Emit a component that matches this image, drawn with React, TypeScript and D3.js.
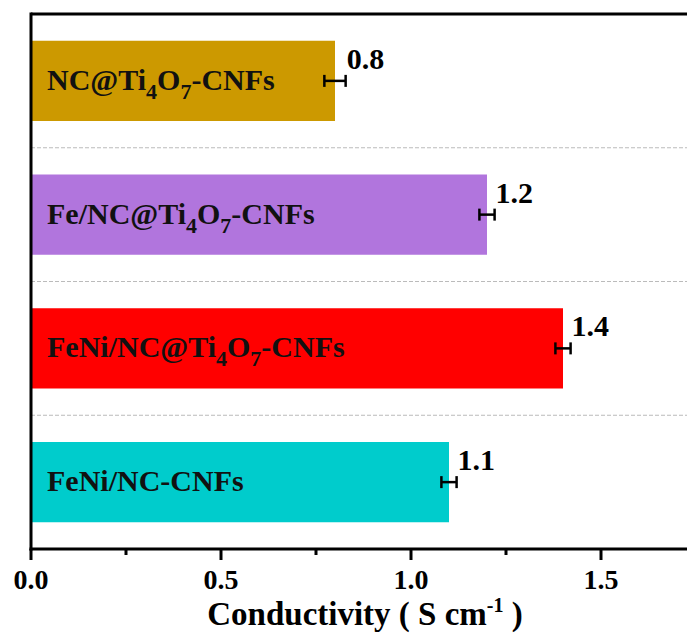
import React from "react";
import * as d3 from "d3";

const categories = ["NC@Ti4O7-CNFs", "Fe/NC@Ti4O7-CNFs", "FeNi/NC@Ti4O7-CNFs", "FeNi/NC-CNFs"];
const values = [0.8, 1.2, 1.4, 1.1];
const errors = [0.028, 0.02, 0.02, 0.02];
const valueLabels = ["0.8", "1.2", "1.4", "1.1"];
const colors = ["#CC9900", "#B175DD", "#FF0000", "#00CCCC"];
const majorTicks = [0, 0.5, 1.0, 1.5];
const minorTicks = [0.25, 0.75, 1.25, 1.75];
const xLabel = "Conductivity ( S cm";

function splitLabel(s: string) {
  const parts: { t: string; sub: boolean }[] = [];
  const re = /(Ti)(4)(O)(7)/;
  const m = s.match(re);
  if (!m || m.index === undefined) return [{ t: s, sub: false }];
  parts.push({ t: s.slice(0, m.index) + "Ti", sub: false });
  parts.push({ t: "4", sub: true });
  parts.push({ t: "O", sub: false });
  parts.push({ t: "7", sub: true });
  parts.push({ t: s.slice(m.index + m[0].length), sub: false });
  return parts;
}

const FONT = '"Liberation Serif"';
const ts = (size: number) => ({ fontFamily: FONT, fontSize: size, fontWeight: 700 as const });

export default function App() {
  const W = 687, H = 634;
  const left = 31, top = 14, bottom = 549;
  const x = d3.scaleLinear().domain([0, 1.8]).range([left, left + 1.8 * 380]);
  const y = d3.scaleBand<string>().domain(categories).range([top, bottom]).paddingInner(0.4).paddingOuter(0.2);
  const step = y.step();
  return (
    <svg width={W} height={H} style={{ position: "absolute", left: 0, top: 0, background: "#fff" }}>
      {categories.slice(1).map((c, i) => {
        const yy = top + (i + 1) * step;
        return <line key={c} x1={left} x2={W} y1={yy} y2={yy} stroke="#bbbbbb" strokeWidth={1} strokeDasharray="4,2" />;
      })}
      {categories.map((c, i) => {
        const y0 = y(c)!;
        const bw = y.bandwidth();
        const cy = y0 + bw / 2;
        const xe1 = x(values[i] - errors[i]);
        const xe2 = x(values[i] + errors[i]);
        return (
          <g key={c}>
            <rect x={x(0)} y={y0} width={x(values[i]) - x(0)} height={bw} fill={colors[i]} />
            <line x1={xe1} x2={xe2} y1={cy} y2={cy} stroke="#000" strokeWidth={2.5} />
            <line x1={xe1} x2={xe1} y1={cy - 6} y2={cy + 6} stroke="#000" strokeWidth={2.5} />
            <line x1={xe2} x2={xe2} y1={cy - 6} y2={cy + 6} stroke="#000" strokeWidth={2.5} />
            <text x={xe2 + 1} y={cy - 12} style={ts(30)} fill="#000">{valueLabels[i]}</text>
            <text x={47} y={cy + 9} style={ts(30)} fill="#111">
              {splitLabel(c).map((p, k) =>
                p.sub ? (
                  <tspan key={k} style={{ fontSize: 22 }} dy={9}>{p.t}</tspan>
                ) : (
                  <tspan key={k} dy={k > 0 ? -9 : 0}>{p.t}</tspan>
                )
              )}
            </text>
          </g>
        );
      })}
      <line x1={left} x2={W} y1={top} y2={top} stroke="#000" strokeWidth={3} />
      <line x1={left} x2={left} y1={top - 1.5} y2={bottom + 1.5} stroke="#000" strokeWidth={3} />
      <line x1={left - 1.5} x2={W} y1={bottom} y2={bottom} stroke="#000" strokeWidth={3} />
      {majorTicks.map((t) => (
        <g key={t}>
          <line x1={x(t)} x2={x(t)} y1={bottom} y2={bottom + 11} stroke="#000" strokeWidth={3} />
          <text x={x(t)} y={589} textAnchor="middle" style={ts(28)}>{d3.format(".1f")(t)}</text>
        </g>
      ))}
      {minorTicks.map((t) => (
        <line key={t} x1={x(t)} x2={x(t)} y1={bottom} y2={bottom + 6} stroke="#000" strokeWidth={3} />
      ))}
      <text x={365} y={625} textAnchor="middle" style={ts(33)}>
        {xLabel}
        <tspan style={{ fontSize: 20 }} dy={-13}>-1</tspan>
        <tspan dy={13}> )</tspan>
      </text>
    </svg>
  );
}
